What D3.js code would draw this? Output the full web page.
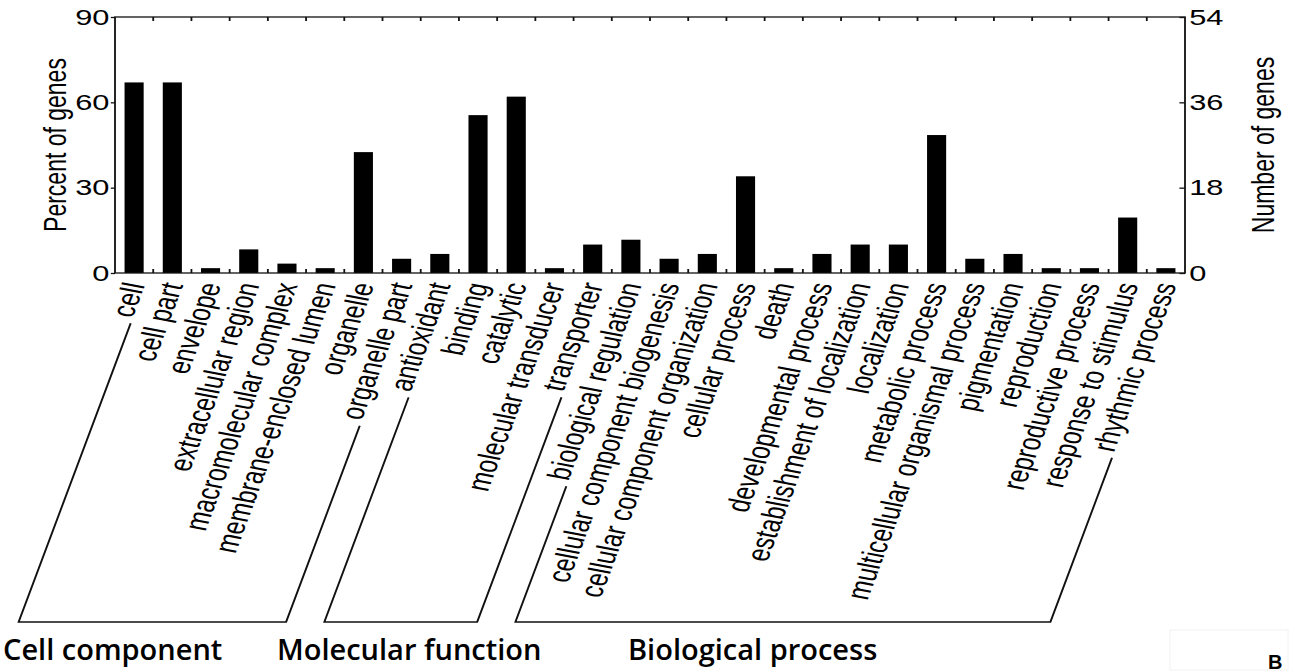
<!DOCTYPE html>
<html>
<head>
<meta charset="utf-8">
<script src="https://cdn.jsdelivr.net/npm/d3@7"></script>
<style>
  body { margin: 0; background: #fff; }
  svg { display: block; }
</style>
</head>
<body>
<script>
const categories = [
    'cell', 'cell part', 'envelope', 'extracellular region', 'macromolecular complex',
    'membrane-enclosed lumen', 'organelle', 'organelle part', 'antioxidant', 'binding',
    'catalytic', 'molecular transducer', 'transporter', 'biological regulation',
    'cellular component biogenesis', 'cellular component organization', 'cellular process',
    'death', 'developmental process', 'establishment of localization', 'localization',
    'metabolic process', 'multicellular organismal process', 'pigmentation', 'reproduction',
    'reproductive process', 'response to stimulus', 'rhythmic process'
];

// percent of genes
const percentGenes = [
    67, 67, 1.7, 8.3, 3.3, 1.7, 42.5, 5, 6.7, 55.5,
    62, 1.7, 10, 11.7, 5, 6.7, 34, 1.7, 6.7, 10,
    10, 48.5, 5, 6.7, 1.7, 1.7, 19.5, 1.7
];

const leftTicks = [0, 30, 60, 90];
const rightTicks = [0, 18, 36, 54];

const groupNames = ['Cell component', 'Molecular function', 'Biological process'];
const groupFirst = ['cell', 'antioxidant', 'biological regulation'];
const groupLast = ['organelle part', 'transporter', 'rhythmic process'];

const width = 1295, height = 672;
const sx = 1.4;              // the original figure is stretched sideways
const plotL = 115 / sx, plotR = 1185 / sx, plotT = 17, plotB = 273;
const angle = -75, fs = 23, bracketY = 622;

const svg = d3.select('body').append('svg')
    .attr('width', width)
    .attr('height', height);

const g = svg.append('g').attr('transform', `scale(${sx},1)`);

const x = d3.scaleBand()
    .domain(categories)
    .range([plotL, plotR])
    .paddingInner(0.5)
    .paddingOuter(0.25);

const y = d3.scaleLinear().domain([0, 90]).range([plotB, plotT]);
const y2 = d3.scaleLinear().domain([0, 54]).range([plotB, plotT]);

// bars
g.selectAll('rect.bar')
    .data(categories)
    .join('rect')
        .attr('class', 'bar')
        .attr('x', d => x(d))
        .attr('width', x.bandwidth())
        .attr('y', (d, i) => y(percentGenes[i]))
        .attr('height', (d, i) => y(0) - y(percentGenes[i]))
        .attr('fill', '#000');

// frame
g.append('rect')
    .attr('x', plotL).attr('y', plotT)
    .attr('width', plotR - plotL).attr('height', plotB - plotT)
    .attr('fill', 'none')
    .attr('stroke', '#111')
    .attr('stroke-width', 1.3);

// x ticks sit between the bars, on top and bottom edges
const gap = (x.step() - x.bandwidth()) / 2;
const bounds = categories.slice(1).map(c => x(c) - gap);
g.selectAll('line.xt')
    .data(bounds.flatMap(b => [[b, plotB, plotB - 4], [b, plotT, plotT + 4]]))
    .join('line')
        .attr('class', 'xt')
        .attr('x1', d => d[0]).attr('x2', d => d[0])
        .attr('y1', d => d[1]).attr('y2', d => d[2])
        .attr('stroke', '#111')
        .attr('stroke-width', 1.3);

function styleAxis(sel) {
    sel.select('.domain').remove();
    sel.selectAll('line').attr('stroke', '#111').attr('stroke-width', 1.3);
    sel.selectAll('text')
        .attr('font-family', 'Liberation Sans, Arial, sans-serif')
        .attr('font-size', 22)
        .attr('fill', '#000');
}

g.append('g')
    .attr('transform', `translate(${plotL},0)`)
    .call(d3.axisLeft(y).tickValues(leftTicks).tickSizeInner(3).tickSizeOuter(0).tickPadding(1))
    .call(styleAxis);

g.append('g')
    .attr('transform', `translate(${plotR},0)`)
    .call(d3.axisRight(y2).tickValues(rightTicks).tickSizeInner(-4).tickSizeOuter(0).tickPadding(3))
    .call(styleAxis);

// axis titles
g.append('text')
    .attr('transform', `translate(${66 / sx},${(plotT + plotB) / 2}) rotate(-90)`)
    .attr('text-anchor', 'middle')
    .attr('font-family', 'Liberation Sans, Arial, sans-serif')
    .attr('font-size', fs)
    .text('Percent of genes');

g.append('text')
    .attr('transform', `translate(${1274 / sx},${(plotT + plotB) / 2}) rotate(-90)`)
    .attr('text-anchor', 'middle')
    .attr('font-family', 'Liberation Sans, Arial, sans-serif')
    .attr('font-size', fs)
    .text('Number of genes');

// category labels
const labelY = plotB + 10;
const labels = g.selectAll('text.cat')
    .data(categories)
    .join('text')
        .attr('class', 'cat')
        .attr('transform', d => `translate(${x(d) + x.bandwidth() / 2},${labelY}) rotate(${angle})`)
        .attr('text-anchor', 'end')
        .attr('dy', '0.35em')
        .attr('font-family', 'Liberation Sans, Arial, sans-serif')
        .attr('font-size', fs)
        .attr('fill', '#000')
        .text(d => d);

// brackets continue the first and last label of each group
const ca = Math.cos(angle * Math.PI / 180), sa = Math.sin(angle * Math.PI / 180);
function labelStart(name) {
    const node = labels.filter(d => d === name).node();
    const len = node.getComputedTextLength() + 5;
    const off = 0.35 * fs;
    const px = x(name) + x.bandwidth() / 2 - off * sa - len * ca;
    const py = labelY + off * ca - len * sa;
    const t = (bracketY - py) / (-sa);
    return [[px, py], [px - t * ca, bracketY]];
}

groupNames.forEach((name, i) => {
    const [a1, a2] = labelStart(groupFirst[i]);
    const [b1, b2] = labelStart(groupLast[i]);
    g.append('path')
        .attr('d', d3.line()([a1, a2, b2, b1]))
        .attr('fill', 'none')
        .attr('stroke', '#111')
        .attr('stroke-width', 1.4);
});

const groupX = [3, 277, 628];
svg.selectAll('text.group')
    .data(groupNames)
    .join('text')
        .attr('class', 'group')
        .attr('x', (d, i) => groupX[i])
        .attr('y', 660)
        .attr('font-family', 'Open Sans, Noto Sans, sans-serif')
        .attr('font-weight', 600)
        .attr('font-size', 29)
        .attr('fill', '#000')
        .text(d => d);

// panel letter in the bottom corner
svg.append('rect')
    .attr('x', 1170).attr('y', 630).attr('width', 118).attr('height', 40)
    .attr('fill', 'none').attr('stroke', '#f2f2f2').attr('stroke-width', 1);

svg.append('text')
    .attr('x', 1268).attr('y', 669)
    .attr('font-family', 'Liberation Sans, Arial, sans-serif')
    .attr('font-weight', 'bold')
    .attr('font-size', 20)
    .text('B');
</script>
</body>
</html>
